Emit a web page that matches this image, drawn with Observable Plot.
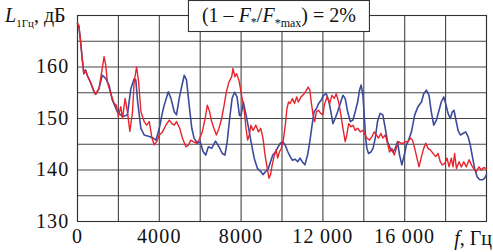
<!DOCTYPE html>
<html>
<head>
<meta charset="utf-8">
<script src="https://cdn.jsdelivr.net/npm/d3@7"></script>
<script src="https://cdn.jsdelivr.net/npm/@observablehq/plot@0.6"></script>
<style>
  html, body { margin: 0; padding: 0; background: #fff; }
  #chart { width: 493px; height: 252px; }
  .ticklab text { letter-spacing: 1.2px; }
</style>
</head>
<body>
<div id="chart"></div>
<script>
// ---- data ----
const freqRed = [0,66,150,230,310,390,475,640,800,885,1050,1210,1300,1380,1460,1620,1790,1900,2000,2115,2200,2330,2440,2560,2690,2770,2890,2990,3100,3260,3380,3510,3640,3750,3870,4000,4160,4320,4490,4620,4730,4840,5000,5130,5300,5420,5540,5650,5810,5940,6100,6240,6350,6460,6560,6670,6790,6920,7050,7170,7280,7410,7540,7600,7700,7780,7890,7950,8080,8160,8240,8320,8400,8480,8590,8720,8850,8960,9070,9170,9280,9360,9440,9520,9630,9710,9790,9870,9970,10080,10160,10240,10320,10400,10510,10610,10720,10800,10930,11040,11150,11280,11360,11440,11520,11600,11680,11790,11890,12000,12070,12200,12330,12440,12550,12650,12770,12880,12980,13090,13170,13260,13370,13470,13580,13700,13830,13960,14070,14150,14280,14400,14510,14610,14720,14840,14930,15050,15160,15260,15370,15490,15590,15700,15810,15920,16030,16160,16280,16380,16490,16600,16700,16820,16930,17030,17140,17250,17390,17520,17630,17740,17840,17960,18070,18170,18280,18360,18440,18530,18660,18770,18890,19010,19150,19260,19370,19500,19630,19750,19860,20000];
const levelRed = [168.5,168,165,161.6,158.7,159.4,158.4,157,155.3,154.7,155.8,159.7,162,160.4,157.1,154.9,152.9,152.6,150.4,152.3,150,153.9,151.3,147.5,151.3,157.1,160,157.1,151.3,149.4,148.7,149.4,146.2,144.9,145.5,146.8,147.4,148.7,149.7,149,148.7,149.4,148.1,146.2,144.5,144.8,145.8,145.5,145.2,145.8,147.4,150,152.6,151.3,149.4,148.1,146.8,148.1,150,152.6,155.2,157.1,158.1,159.7,158.1,158.7,157.5,156.2,153.3,151.3,148.1,145.8,146.8,148.7,147.7,148.7,147.4,148.1,146.2,142.9,140.3,138.4,139.1,141,142.9,143.9,142.3,143.5,144.2,146.2,148.7,151.9,153.2,152.9,153.9,152.9,154.2,153.2,154.2,154.6,155.2,156.1,155.5,152.9,150.7,149.4,151.3,151.6,151,150.7,152.6,154.2,152.9,154.5,153.9,154.8,153.2,150.7,148.1,145.5,146.8,149,148.4,148.7,147.7,148.1,147.4,147.7,146.8,146.2,145.8,146.5,147.4,146.8,146.2,147.1,146.2,146.8,145.2,143.5,144.2,142.9,144.2,145.5,145.2,145.2,145.5,145.5,146.2,145.8,144.2,142.3,140.6,142.6,144.2,145.2,144.2,143.9,143.2,142.6,143.2,141.6,141,141.3,142.3,140.6,142.3,140.6,143.2,140.3,141.6,140.6,141.6,140.6,142,141,140.3,139.7,140.6,140,140.5,140.2];

const freqBlue = [0,66,150,230,310,390,475,640,800,885,1050,1210,1380,1540,1700,1950,2200,2440,2610,2770,2850,2940,3100,3260,3510,3700,3840,4000,4160,4240,4440,4570,4730,4840,5000,5220,5330,5460,5590,5700,5860,6000,6140,6270,6400,6560,6750,6920,7080,7210,7320,7440,7560,7680,7800,7920,8000,8110,8240,8370,8480,8640,8800,8960,9070,9200,9330,9440,9550,9680,9810,9920,10030,10160,10290,10400,10510,10640,10770,10880,10990,11120,11250,11360,11470,11570,11680,11790,11920,12030,12160,12280,12390,12490,12600,12720,12850,12980,13090,13210,13340,13470,13580,13700,13790,13870,13960,14020,14090,14150,14230,14350,14450,14560,14670,14800,14930,15050,15160,15290,15420,15540,15650,15750,15860,15980,16080,16160,16330,16490,16650,16820,16930,17060,17190,17300,17420,17550,17680,17790,17910,18000,18120,18230,18330,18410,18490,18610,18720,18850,18980,19100,19210,19310,19420,19540,19670,19800,19910,20000];
const levelBlue = [168.5,168,165,161.6,158.7,159.4,158.4,157,155.3,154.7,155.8,158.4,157.8,156.5,153.6,151.3,150.4,150.7,155.8,157.7,157.5,153.3,148.1,146.8,146.5,146.2,145.8,148.1,151.3,152.6,155.2,153.9,151.3,150.7,154.5,158.4,157.5,152.6,148.1,146.2,145.2,145.5,143.6,142.9,144.5,144.2,145.6,144.5,143.2,142.9,145.5,150,153.9,155.1,154.2,150.6,150.7,153.2,150.7,148.1,145.6,142.3,140.3,139.7,139.1,139.7,140.3,141.6,142.9,143.5,144.5,145.2,145.5,144.8,143.5,142.6,141.9,142.1,141.6,142.3,141.6,141,142.9,145.5,148.7,151.3,151.9,152.9,153.6,154.5,154.8,153.6,151.3,149,150,151.3,152.9,154.5,153.9,151.3,149.4,149.7,151.3,153.2,155.5,156.5,154.5,150.7,146.2,144.2,143.2,143.5,144.2,146.2,149.4,151,150.7,148.1,145.5,144.2,143.5,144.2,145.5,142.9,141,142.9,144.8,145.5,147.4,150.7,152.3,153.2,154.8,155.5,154.5,151.3,148.7,149.7,151.6,153.2,154.2,152.9,151,150,151.3,151.6,150,147.7,146.8,147.1,147.4,146.5,144.8,142.6,140.3,138.7,138.1,138.1,138.4,139.1];

const xTickValues = [0, 4000, 8000, 12000, 16000];
const xTickLabels = ["0", "4000", "8000", "12\u2009000", "16\u2009000"];
const yTickValues = [130, 140, 150, 160];
const yTickLabels = ["130", "140", "150", "160"];
const xGrid = d3.range(0, 20001, 2000);
const yGrid = d3.range(130, 171, 5);

const red = freqRed.map((f, i) => ({f, L: levelRed[i]}));
const blue = freqBlue.map((f, i) => ({f, L: levelBlue[i]}));

const serif = "'Liberation Serif', 'DejaVu Serif', serif";

const plot = Plot.plot({
  width: 493,
  height: 252,
  marginLeft: 77,
  marginRight: 7,
  marginTop: 15,
  marginBottom: 31,
  style: {fontFamily: serif, fontSize: "20px", color: "#111", background: "#fff", overflow: "visible"},
  x: {domain: [0, 20000], axis: null},
  y: {domain: [130, 170], axis: null},
  marks: [
    Plot.gridX(xGrid, {stroke: "#444", strokeOpacity: 1, strokeWidth: 1.1}),
    Plot.gridY(yGrid, {stroke: "#444", strokeOpacity: 1, strokeWidth: 1.1}),
    Plot.frame({stroke: "#333", strokeWidth: 1.1}),
    Plot.line(blue, {x: "f", y: "L", stroke: "#3b4a9c", strokeWidth: 1.6}),
    Plot.line(red, {x: "f", y: "L", stroke: "#e8232b", strokeWidth: 1.4}),
    Plot.axisX({ticks: xTickValues, tickSize: 0, tickPadding: 7, label: null, className: "ticklab",
      tickFormat: d => xTickLabels[xTickValues.indexOf(d)], fontSize: 20}),
    Plot.axisY({ticks: yTickValues, tickSize: 0, tickPadding: 8, label: null, className: "ticklab",
      tickFormat: d => yTickLabels[yTickValues.indexOf(d)], fontSize: 20})
  ]
});

document.getElementById("chart").appendChild(plot);

const svg = d3.select(plot);
const xs = plot.scale("x"), ys = plot.scale("y");

// y-axis title
const yt = svg.append("text")
  .attr("x", 5).attr("y", ys.apply(170) + 7).attr("text-anchor", "start")
  .attr("font-family", serif).attr("font-size", 20).attr("fill", "#111");
yt.append("tspan").attr("font-style", "italic").text("L");
yt.append("tspan").attr("font-size", 11).attr("dy", 5).text("1Гц");
yt.append("tspan").attr("dy", -5).text(", дБ");

// x-axis unit label
const xt = svg.append("text")
  .attr("x", 492).attr("text-anchor", "end")
  .attr("y", ys.apply(130) + 24)
  .attr("font-family", serif).attr("font-size", 20).attr("fill", "#111");
xt.append("tspan").attr("font-style", "italic").text("f");
xt.append("tspan").text(", Гц");

// boxed annotation
const bx0 = xs.apply(5450), bx1 = xs.apply(14300);
svg.append("rect")
  .attr("x", bx0).attr("y", 0.5).attr("width", bx1 - bx0).attr("height", 31)
  .attr("fill", "#fff").attr("stroke", "#333").attr("stroke-width", 1.1);
const bt = svg.append("text")
  .attr("x", (bx0 + bx1) / 2).attr("y", 22).attr("text-anchor", "middle")
  .attr("font-family", serif).attr("font-size", 20).attr("fill", "#111");
bt.append("tspan").text("(1 \u2013 ");
bt.append("tspan").attr("font-style", "italic").text("F");
bt.append("tspan").attr("font-size", 12).attr("dy", 4).text("*");
bt.append("tspan").attr("dy", -4).text("/");
bt.append("tspan").attr("font-style", "italic").text("F");
bt.append("tspan").attr("font-size", 12).attr("dy", 5).text("*max");
bt.append("tspan").attr("dy", -5).text(") = 2%");
</script>
</body>
</html>
